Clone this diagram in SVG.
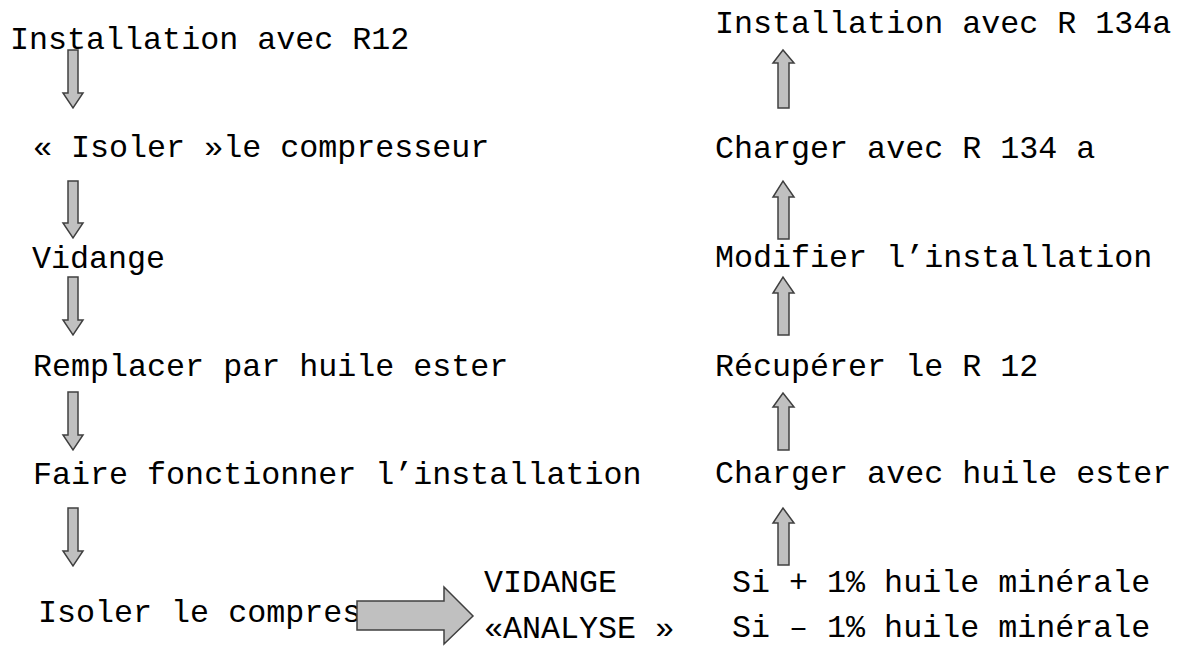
<svg xmlns="http://www.w3.org/2000/svg" width="1178" height="650" viewBox="0 0 1178 650">
<style>
text{font-family:"Liberation Mono","Courier New",monospace;font-size:31.7px;fill:#000}
.arr{fill:#c0c0c0;stroke:#404040;stroke-width:1.5;stroke-linejoin:miter}
</style>
<rect width="1178" height="650" fill="#fff"/>
<g id="n1"><text x="10" y="49">Installation avec R12</text></g>
<g id="n2"><text x="33" y="157">« Isoler »le compresseur</text></g>
<g id="n3"><text x="32" y="268">Vidange</text></g>
<g id="n4"><text x="33" y="376">Remplacer par huile ester</text></g>
<g id="n5"><text x="33" y="484">Faire fonctionner l’installation</text></g>
<g id="n6"><text x="38" y="622">Isoler le compres</text></g>
<g id="n7"><text x="484" y="592">VIDANGE</text></g>
<g id="n8"><text x="484" y="638">«ANALYSE »</text></g>
<g id="r1"><text x="715" y="33">Installation avec R 134a</text></g>
<g id="r2"><text x="715" y="158">Charger avec R 134 a</text></g>
<g id="r3"><text x="715" y="267">Modifier l’installation</text></g>
<g id="r4"><text x="715" y="376">Récupérer le R 12</text></g>
<g id="r5"><text x="715" y="483">Charger avec huile ester</text></g>
<g id="r6"><text x="732" y="592">Si + 1% huile minérale</text></g>
<g id="r7"><text x="732" y="637">Si – 1% huile minérale</text></g>
<g id="connectors">
<polygon class="arr" points="68,50 78,50 78,93 83,93 73,108 63,93 68,93"/>
<polygon class="arr" points="68,181 78,181 78,223 83,223 73,238 63,223 68,223"/>
<polygon class="arr" points="68,277 78,277 78,320 83,320 73,335 63,320 68,320"/>
<polygon class="arr" points="68,392 78,392 78,435 83,435 73,450 63,435 68,435"/>
<polygon class="arr" points="68,508 78,508 78,551 83,551 73,566 63,551 68,551"/>
<polygon class="arr" points="357,601 444,601 444,587 473,616 444,644 444,630 357,630"/>
<polygon class="arr" points="778,108 789,108 789,63 794,63 783,50 773,63 778,63"/>
<polygon class="arr" points="778,239 789,239 789,197 794,197 783,181 773,197 778,197"/>
<polygon class="arr" points="778,335 789,335 789,293 794,293 783,277 773,293 778,293"/>
<polygon class="arr" points="778,450 789,450 789,407 794,407 783,393 773,407 778,407"/>
<polygon class="arr" points="778,565 789,565 789,523 794,523 783,508 773,523 778,523"/>
</g>
</svg>
